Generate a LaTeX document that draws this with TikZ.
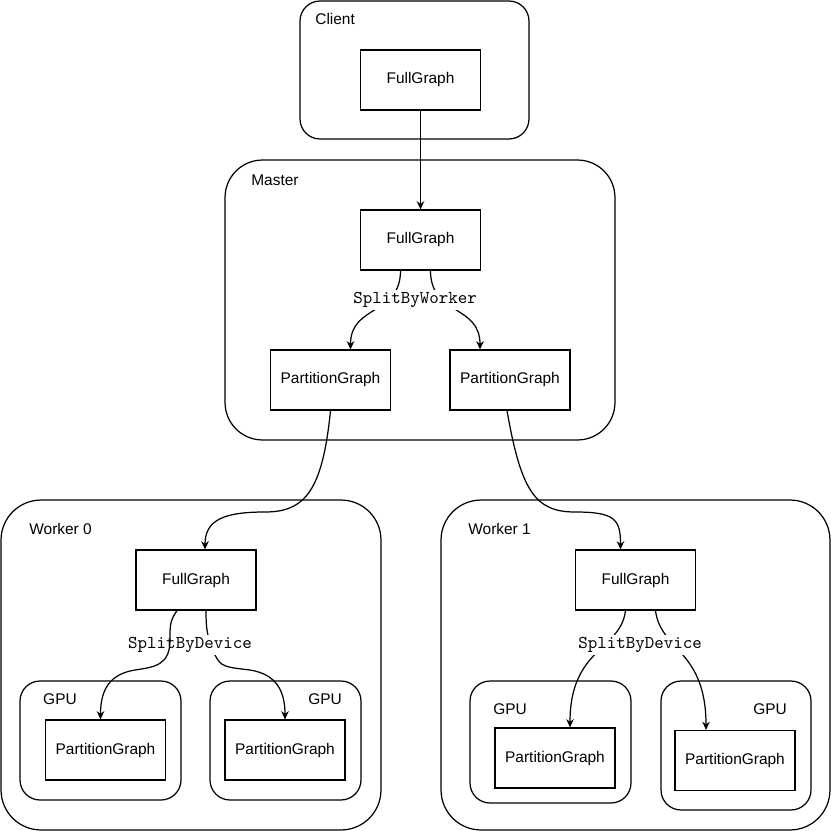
\documentclass[tikz,border=0pt]{standalone}
\usepackage{fontspec}
\setmainfont{Liberation Sans}
\usetikzlibrary{arrows.meta}
\begin{document}
\begin{tikzpicture}[x=0.02cm, y=-0.02cm,
  every node/.style={font=\fontsize{8.8}{10}\selectfont},
  group/.style={draw, line width=0.7pt, rounded corners=#1, inner sep=0pt},
  group/.default=0.4cm,
  graphbox/.style={draw, line width=0.7pt, minimum width=2.4cm, minimum height=1.2cm, inner sep=0pt},
  grouplabel/.style={anchor=west, inner sep=0pt},
  splitlabel/.style={fill=white, inner sep=1.5pt, font=\fontsize{10.3}{11}\selectfont\ttfamily},
  flow/.style={line width=0.7pt, -{Stealth[length=4.6pt, width=4.2pt, inset=1.4pt]}}
]
\useasboundingbox (0,0) rectangle (831,831);
% Containers
\node[group, minimum width=4.58cm, minimum height=2.76cm] (client) at (414.5,70) {};
\node[group=0.75cm, minimum width=7.8cm, minimum height=5.6cm] (master) at (420,300) {};
\node[group=0.8cm, minimum width=7.6cm, minimum height=6.6cm] (worker0) at (191,665) {};
\node[group=0.8cm, minimum width=7.78cm, minimum height=6.6cm] (worker1) at (635.5,665) {};
% GPU containers
\node[group, minimum width=3.22cm, minimum height=2.38cm] (gpu00) at (100.5,740.5) {};
\node[group, minimum width=3.02cm, minimum height=2.38cm] (gpu01) at (285.5,740.5) {};
\node[group, minimum width=3.22cm, minimum height=2.44cm] (gpu10) at (550.5,742) {};
\node[group, minimum width=3.0cm, minimum height=2.58cm] (gpu11) at (736,745.5) {};
% Container labels
\node[grouplabel] (clientlab) at (315,19) {Client};
\node[grouplabel] (masterlab) at (251,180) {Master};
\node[grouplabel] (worker0lab) at (29,529) {Worker 0};
\node[grouplabel] (worker1lab) at (468,529) {Worker 1};
\node (gpu00lab) at (60,699) {GPU};
\node (gpu01lab) at (325,699) {GPU};
\node (gpu10lab) at (510,709) {GPU};
\node (gpu11lab) at (770,709) {GPU};
% Graphs
\node[graphbox] (cfull) at (420.5,80) {FullGraph};
\node[graphbox] (mfull) at (420.5,240) {FullGraph};
\node[graphbox] (mpartl) at (330.5,380) {PartitionGraph};
\node[graphbox] (mpartr) at (510,380) {PartitionGraph};
\node[graphbox] (w0full) at (196,580) {FullGraph};
\node[graphbox] (w1full) at (635.5,580) {FullGraph};
\node[graphbox] (w0partl) at (105.5,750) {PartitionGraph};
\node[graphbox] (w0partr) at (285,750) {PartitionGraph};
\node[graphbox] (w1partl) at (555,758) {PartitionGraph};
\node[graphbox] (w1partr) at (735,760.5) {PartitionGraph};
% Client -> Master
\draw[flow] (cfull) -- (mfull);
% Master split
\draw[flow] ([xshift=-0.4cm]mfull.south) .. controls +(0,45) and +(0,-45) .. ([xshift=0.4cm]mpartl.north);
\draw[flow] ([xshift=0.2cm]mfull.south) .. controls +(0,45) and +(0,-45) .. ([xshift=-0.6cm]mpartr.north);
\node[splitlabel] (mlab) at (415,300) {SplitByWorker};
% Master -> Workers
\draw[flow] (mpartl.south) .. controls +(-8,80) and +(40,0) .. (265,512)
  .. controls +(-40,0) and +(0,-30) .. ([xshift=0.18cm]w0full.north);
\draw[flow] ([xshift=-0.06cm]mpartr.south) .. controls +(14,80) and +(-40,0) .. (575,512)
  .. controls +(40,0) and +(0,-30) .. ([xshift=-0.3cm]w1full.north);
% Worker 0 split
\draw[flow] ([xshift=0.2cm]w0full.south) .. controls +(0,25) and +(-6,-15) .. (215,655)
  .. controls +(6,12) and +(-25,-3) .. (250,670) .. controls +(25,4) and +(0,-30) .. (w0partr.north);
\node[splitlabel] (w0lab) at (190,645) {SplitByDevice};
\draw[flow] ([xshift=-0.38cm]w0full.south) .. controls +(-7,10) and +(0,-15) .. (170,640)
  .. controls +(0,25) and +(20,-3) .. (135,670) .. controls +(-25,4) and +(0,-30) .. ([xshift=-0.1cm]w0partl.north);
% Worker 1 split
\draw[flow] ([xshift=-0.2cm]w1full.south) .. controls +(-5,40) and +(0,-80) .. ([xshift=0.3cm]w1partl.north);
\draw[flow] ([xshift=0.4cm]w1full.south) .. controls +(5,40) and +(0,-80) .. ([xshift=-0.58cm]w1partr.north);
\node[splitlabel] (w1lab) at (640,645) {SplitByDevice};
\end{tikzpicture}
\end{document}
